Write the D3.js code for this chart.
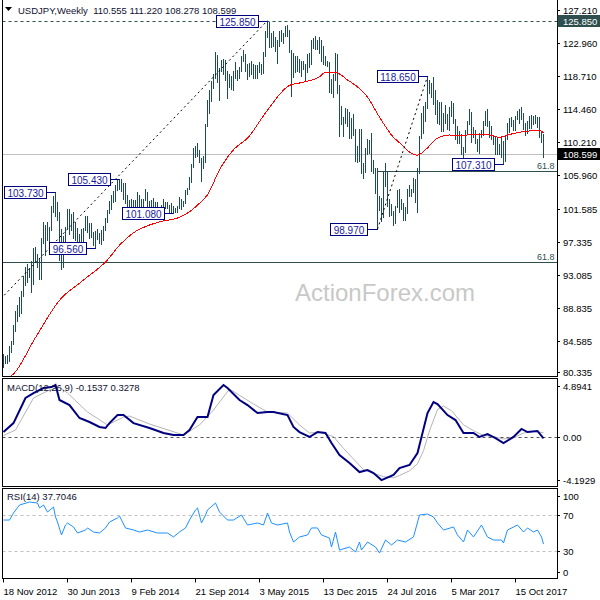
<!DOCTYPE html>
<html><head><meta charset="utf-8">
<script src="https://cdn.jsdelivr.net/npm/d3@7"></script>
<style>
body{margin:0;background:#fff;}
svg{display:block;font-family:"Liberation Sans",Arial,sans-serif;}
</style></head><body>
<svg id="c" width="600" height="600"></svg>
<script>
// ---------- DATA (weekly bars, index 0 = week of 18 Nov 2012) ----------
const highs=[82.84,82.60,82.80,83.95,84.60,86.60,88.40,89.20,90.20,91.00,
92.95,94.10,94.45,94.00,94.80,96.60,96.70,95.80,95.20,97.80,
99.90,99.50,99.90,99.20,101.98,103.30,103.73,102.50,101.20,99.00,
98.10,99.30,101.50,101.50,100.90,101.20,99.90,99.10,98.40,99.00,
99.10,100.60,100.60,99.70,99.70,98.60,98.70,99.00,98.50,98.90,
99.40,100.40,101.40,102.60,103.40,103.90,104.60,105.30,105.43,105.40,
104.90,104.90,103.40,102.70,102.80,102.70,102.70,103.80,103.40,102.80,
102.90,104.10,103.80,102.60,102.70,103.00,102.40,102.40,101.80,102.10,
102.80,102.40,102.40,102.10,102.30,102.00,101.70,101.90,103.15,102.80,
102.60,104.00,104.30,105.70,107.40,109.45,109.70,110.10,109.20,108.10,
108.40,112.50,115.60,116.90,118.00,118.98,121.85,121.40,119.70,120.80,
120.90,120.80,119.30,118.90,118.70,119.30,120.50,119.50,119.80,121.30,
122.00,121.60,120.20,120.40,120.60,120.20,120.10,120.10,120.50,120.20,
121.80,124.50,125.85,125.70,124.30,124.50,123.70,123.30,124.50,124.60,
124.30,125.10,125.30,124.60,122.00,121.70,121.30,121.30,120.90,120.60,
120.60,120.30,121.50,121.70,123.30,123.60,123.80,123.40,123.70,123.30,
122.60,121.30,120.70,120.50,118.30,118.90,121.70,121.50,117.50,114.90,
113.40,114.60,114.40,114.00,113.30,113.80,111.90,109.70,111.90,111.90,
107.50,109.40,110.60,110.50,111.40,107.90,106.90,106.80,103.30,103.00,
106.30,107.50,106.50,102.80,102.20,101.30,102.00,104.00,104.20,102.80,
102.30,101.80,104.20,104.60,104.10,105.50,105.40,106.90,111.00,113.90,
114.80,115.40,118.65,118.20,117.80,118.60,116.90,115.60,115.40,115.40,
113.90,114.95,113.80,114.70,115.50,115.20,113.10,112.20,111.60,111.20,
109.50,111.80,112.90,114.40,114.10,112.10,111.70,110.60,111.40,111.80,
112.90,114.20,114.50,112.90,112.20,111.10,110.90,110.90,109.90,110.70,
110.30,111.00,112.70,113.30,113.40,113.00,113.60,114.20,114.40,114.73,
113.90,112.70,112.90,113.60,113.70,113.60,113.70,113.40,113.40,111.50,
111.22];
const lows=[81.15,81.70,81.70,82.00,83.10,84.10,85.90,87.10,87.80,88.10,
90.30,91.80,92.20,92.80,90.90,91.90,94.90,94.10,92.60,92.60,
97.20,95.60,97.60,97.10,98.80,101.20,100.70,100.10,94.98,93.79,
94.10,96.80,99.10,98.30,98.80,97.80,97.60,95.80,96.20,97.10,
96.80,98.90,98.60,97.80,98.00,96.90,96.56,97.70,97.20,97.10,
97.60,98.80,99.90,101.00,101.60,102.50,102.60,104.00,104.10,103.90,
102.90,102.30,101.80,100.76,101.30,101.60,101.60,101.20,101.20,101.20,
101.70,102.70,101.30,101.40,102.00,101.90,101.40,101.20,100.80,101.50,
101.70,101.70,101.70,101.20,101.20,101.08,101.20,101.20,101.70,101.50,
101.90,102.30,103.50,104.10,105.00,107.00,108.30,108.40,107.60,105.20,
106.80,107.60,112.30,113.90,115.50,117.20,118.40,117.90,115.57,119.30,
118.90,118.20,115.86,117.30,117.00,116.90,118.40,118.20,118.40,119.30,
120.60,119.30,118.30,118.70,118.90,118.50,118.50,118.50,119.20,118.90,
119.10,121.30,123.70,122.50,122.40,122.60,121.90,120.40,122.60,123.20,
123.00,123.80,123.90,121.80,116.15,118.60,119.20,119.30,119.20,118.70,
119.60,118.10,119.20,119.90,120.30,122.30,122.20,122.20,121.70,120.60,
120.30,120.10,120.00,116.70,116.50,115.97,118.20,116.50,110.99,112.50,
110.98,112.60,112.20,110.70,110.70,111.10,107.70,107.60,107.80,106.20,
105.55,106.30,108.60,108.80,106.50,106.20,103.60,98.97,101.40,99.99,
100.50,104.50,101.95,100.70,100.80,99.54,99.80,101.80,101.20,101.50,
100.10,100.10,101.00,103.20,103.20,103.80,102.50,101.20,106.20,110.70,
111.40,112.90,114.60,116.50,116.00,115.10,113.80,112.60,112.50,111.60,
111.60,112.60,111.90,111.70,113.60,112.60,110.60,110.10,110.10,108.70,
108.13,108.90,111.30,112.50,110.20,110.80,110.10,109.10,108.80,110.80,
111.10,112.40,112.20,110.90,110.60,109.90,108.70,108.60,108.60,108.30,
107.31,107.80,110.60,111.50,112.20,111.70,111.70,113.20,112.60,113.10,
111.90,111.10,111.40,112.00,112.00,112.50,112.60,112.10,110.90,110.20,
108.28];
// red moving average
const smaIdx=[0,5,16,28,40,52,58,65,72,78,88,93,98,102,108,115,122,132,143,148,158,161,165,167,172,177,182,188,195,198,203,207,211,217,223,228,232,243,248,252,257,262,268,270];
const smaVal=[79.5,80.3,85.0,89.8,92.4,95.0,96.9,98.5,99.4,99.9,100.5,101.2,102.3,103.4,106.6,109.2,110.7,114.3,117.5,117.8,118.6,119.2,119.2,119.1,118.2,117.3,116.0,113.4,110.8,110.1,108.9,108.5,109.2,110.7,111.1,111.0,111.1,111.1,110.8,111.1,111.4,111.6,111.7,111.4];
// MACD(12,26,9)
const macdIdx=[0,5,11,15,20,24,26,28,33,38,43,48,51,53,57,60,65,73,80,85,90,93,97,102,105,110,112,118,122,127,132,135,142,145,148,153,157,161,164,168,173,178,182,185,189,195,198,203,207,209,212,215,217,222,226,230,235,238,242,246,250,255,259,262,267,270];
const macdMain=[0.39,1.15,3.28,3.70,4.13,4.21,4.38,3.11,2.68,1.58,1.24,0.82,0.73,1.15,1.83,1.83,1.15,0.73,0.31,0.14,0.14,0.56,1.66,1.66,3.53,4.38,4.13,3.11,2.68,2.0,2.09,2.09,1.83,0.82,0.39,-0.03,0.39,0.31,-0.54,-1.56,-2.24,-3.01,-2.84,-3.09,-3.69,-3.26,-2.67,-2.41,-1.39,-0.03,2.0,2.94,2.77,1.83,1.41,0.31,0.31,-0.03,0.22,-0.12,-0.54,-0.03,0.65,0.39,0.48,-0.15];
const sigIdx=[0,6,15,23,28,32,42,52,60,63,73,90,98,105,113,125,132,142,148,153,158,165,170,175,180,185,190,195,198,203,207,210,213,217,220,224,230,235,240,245,250,255,260,265,270];
const sigVal=[0.1,0.56,3.28,3.96,4.21,3.70,2.09,0.99,1.66,1.75,1.07,0.14,0.99,2.26,4.04,2.77,2.09,2.0,0.99,0.31,0.39,0.0,-1.0,-1.9,-2.8,-3.1,-3.4,-3.5,-3.3,-2.9,-2.3,-1.2,0.5,2.3,2.6,2.2,1.0,0.5,0.1,0.0,-0.2,-0.1,0.3,0.45,0.33];
// RSI(14)
const rsiIdx=[0,3,5,8,13,17,18,20,22,25,26,27,29,31,32,35,37,41,42,45,48,51,53,57,58,61,65,68,72,77,82,85,88,91,93,96,97,99,101,102,106,108,112,115,119,122,127,130,132,134,137,142,143,145,148,152,154,157,159,163,164,166,168,173,176,178,179,182,186,188,191,194,197,201,205,208,212,215,217,220,225,227,230,232,235,239,242,245,249,250,252,257,260,262,265,267,269,270];
const rsiVal=[64.4,64.4,72.2,81.1,84.4,83.3,77.8,81.1,73.3,78.9,67.8,62.2,47.8,58.9,61.1,56.7,50,53.3,55.6,51.1,50,55.6,62.2,66.7,68.9,55.6,53.3,51.1,53.3,50,50,45.6,51.1,55.6,64.4,75.6,77.8,61.1,70,75.6,83.3,73.3,64.4,64.4,70,58.9,61.1,58.9,72.2,61.1,58.9,61.1,51.1,40,45.6,47.8,55.6,55.6,47.8,44.4,34.4,51.1,31.1,34.4,28.9,40,31.1,40,34.4,27.8,42.2,36.7,42.2,40,45.6,70,71.1,67.8,61.1,53.3,56.7,47.8,40,53.3,45.6,58.9,45.6,42.2,42.2,38.9,53.3,58.9,51.1,55.6,51.1,53.3,45.6,37.7];
// annotations
const annIdx=[26,46,58,85,132,187,212,250];
const annVal=[103.73,96.56,105.43,101.08,125.85,98.97,118.65,107.31];
// fibonacci anchors (index, price) and level
const fib1=[[-55,75.56],[132,125.85]];
const fib2=[[187,98.97],[212,118.65]];
const fibLevel=0.618;
// axis ticks
const priceTicks=[127.21,122.96,118.71,114.46,110.21,105.96,101.585,97.335,93.085,88.835,84.585,80.335];
const macdTicks=[4.8941,0,-4.1929];
const macdTickLabels=["4.8941","0.00","-4.1929"];
const rsiTicks=[100,70,30,0];
const rsiTickLabels=["100","70","30","0"];
const dateIdx=[0,32,64,96,128,160,192,224,256];
const dateLabels=["18 Nov 2012","30 Jun 2013","9 Feb 2014","21 Sep 2014","3 May 2015","13 Dec 2015","24 Jul 2016","5 Mar 2017","15 Oct 2017"];
const hLine=125.85, lastPrice=108.599;
const header="USDJPY,Weekly  110.555 111.220 108.278 108.599";
const macdLabel="MACD(12,26,9) -0.1537 0.3278";
const rsiLabel="RSI(14) 37.7046";

// ---------- LAYOUT ----------
const svg=d3.select("#c");
const L=2.5,R=557.5;
const P={top:-0.5,bottom:376.5}, M={top:378.5,bottom:486.5}, Q={top:488.5,bottom:578.5};
const x=d3.scaleLinear().domain([0,270]).range([3,543]);
const y=d3.scaleLinear().domain([80.335,127.21]).range([373.7,10]);
const ym=d3.scaleLinear().domain([-4.1929,4.8941]).range([486,379]);
const yr=d3.scaleLinear().domain([0,100]).range([578,488]);
const px=v=>Math.round(v)+0.5;
const defs=svg.append("defs");
function clip(id,t,b){defs.append("clipPath").attr("id",id).append("rect").attr("x",L).attr("y",t).attr("width",R-L).attr("height",b-t);}
clip("cm",0,P.bottom-0.5);clip("cd",M.top+0.5,M.bottom-0.5);clip("cr",Q.top+0.5,Q.bottom-0.5);
const fs=9.5;

// ---------- MAIN PANEL ----------
const gm=svg.append("g").attr("clip-path","url(#cm)");
gm.append("text").attr("x",385).attr("y",301).attr("text-anchor","middle")
  .attr("font-size",24).attr("fill","#c8c8c8").text("ActionForex.com");
gm.append("line").attr("x1",L).attr("x2",R).attr("y1",px(y(lastPrice))).attr("y2",px(y(lastPrice)))
  .attr("stroke","#c0c0c0");
[fib1,fib2].forEach(f=>{
  const lv=f[1][1]-fibLevel*(f[1][1]-f[0][1]);
  const yy=px(y(lv));
  gm.append("line").attr("x1",Math.max(L,x(f[0][0]))).attr("x2",R).attr("y1",yy).attr("y2",yy)
    .attr("stroke","#2f4f4f");
  gm.append("text").attr("x",R-3).attr("y",yy-3).attr("text-anchor","end").attr("font-size",9)
    .attr("fill","#2f4f4f").text((fibLevel*100).toFixed(1));
});
gm.append("line").attr("x1",L).attr("x2",R).attr("y1",px(y(hLine))).attr("y2",px(y(hLine)))
  .attr("stroke","#2f4f4f").attr("stroke-dasharray","3,3");
gm.append("g").selectAll("line").data(highs).join("line")
  .attr("x1",(d,i)=>x(i)+0.5).attr("x2",(d,i)=>x(i)+0.5)
  .attr("y1",d=>Math.round(y(d))).attr("y2",(d,i)=>Math.round(y(lows[i]))+1)
  .attr("stroke","#1b4a62").attr("stroke-width",1).attr("shape-rendering","crispEdges");
gm.append("path").datum(smaIdx.map((d,i)=>[d,smaVal[i]]))
  .attr("d",d3.line().x(d=>x(d[0])+0.5).y(d=>y(d[1])).curve(d3.curveMonotoneX))
  .attr("fill","none").attr("stroke","#ff0000").attr("stroke-width",1).attr("shape-rendering","crispEdges");
[fib1,fib2].forEach(f=>{
  gm.append("path").datum(f).attr("d",d3.line().x(d=>x(d[0])+0.5).y(d=>y(d[1])))
    .attr("stroke","#000").attr("stroke-dasharray","2,3").attr("fill","none");
});
annIdx.forEach((bi,k)=>{
  const v=annVal[k], bx=x(bi)+0.5, yy=px(y(v));
  const g=gm.append("g");
  const t=g.append("text").attr("font-size",10).attr("fill","#1a1aa0").attr("text-anchor","middle").text(v.toFixed(3));
  const tw=t.node().getComputedTextLength();
  const right=Math.round(bx-10)+0.5, w=Math.round(tw+6);
  g.insert("rect","text").attr("x",right-w).attr("y",yy-6).attr("width",w).attr("height",12)
    .attr("fill","#fff").attr("stroke","#000080");
  g.insert("line","rect").attr("x1",right).attr("x2",bx).attr("y1",yy).attr("y2",yy).attr("stroke","#000080");
  t.attr("x",right-w/2).attr("y",yy+4);
});

svg.append("path").attr("d","M5,7 L12,7 L8.5,11 Z").attr("fill","#000");
svg.append("text").attr("x",18).attr("y",14).attr("font-size",fs).attr("fill","#101030")
  .style("white-space","pre").text(header);

// ---------- MACD PANEL ----------
const gd=svg.append("g").attr("clip-path","url(#cd)");
gd.append("line").attr("x1",L).attr("x2",R).attr("y1",px(ym(0))).attr("y2",px(ym(0)))
  .attr("stroke","#555").attr("stroke-dasharray","3,3");
gd.append("path").datum(sigIdx.map((d,i)=>[d,sigVal[i]]))
  .attr("d",d3.line().x(d=>x(d[0])+0.5).y(d=>ym(d[1])))
  .attr("fill","none").attr("stroke","#b4b4b4").attr("stroke-width",1);
gd.append("path").datum(macdIdx.map((d,i)=>[d,macdMain[i]]))
  .attr("d",d3.line().x(d=>x(d[0])+0.5).y(d=>ym(d[1])))
  .attr("fill","none").attr("stroke","#000080").attr("stroke-width",2);
svg.append("text").attr("x",7).attr("y",391).attr("font-size",fs).attr("fill","#101030").text(macdLabel);

// ---------- RSI PANEL ----------
const gr=svg.append("g").attr("clip-path","url(#cr)");
[70,30].forEach(v=>gr.append("line").attr("x1",L).attr("x2",R).attr("y1",px(yr(v))).attr("y2",px(yr(v)))
  .attr("stroke","#c0c0c0").attr("stroke-dasharray","3,3"));
gr.append("path").datum(rsiIdx.map((d,i)=>[d,rsiVal[i]]))
  .attr("d",d3.line().x(d=>x(d[0])+0.5).y(d=>yr(d[1])))
  .attr("fill","none").attr("stroke","#1e90ff").attr("stroke-width",1);
svg.append("text").attr("x",7).attr("y",500).attr("font-size",fs).attr("fill","#101030").text(rsiLabel);

// ---------- FRAMES ----------
const fr=svg.append("g").attr("stroke","#000").attr("fill","none").attr("shape-rendering","crispEdges");
[P,M,Q].forEach(p=>{fr.append("rect").attr("x",L).attr("y",p.top).attr("width",R-L).attr("height",p.bottom-p.top);});

// ---------- AXES ----------
const ax=svg.append("g").attr("transform","translate(557,0)");
const pa=ax.append("g").call(d3.axisRight(y).tickValues(priceTicks).tickSize(3).tickSizeOuter(0).tickFormat(d3.format(".3f")));
pa.select(".domain").remove();
pa.selectAll("text").attr("font-size",fs).attr("font-family","Liberation Sans").attr("x",6).attr("fill","#000");
pa.selectAll(".tick").attr("transform",d=>`translate(0,${Math.min(Math.round(y(d))+0.5,P.bottom-4)})`);
[[hLine,"#2f4f4f"],[lastPrice,"#000"]].forEach(([v,c])=>{
  const yy=Math.round(y(v));
  ax.append("rect").attr("x",0.5).attr("y",yy-6).attr("width",43).attr("height",12).attr("fill",c);
  ax.append("text").attr("x",6).attr("y",yy+3.5).attr("font-size",fs).attr("fill","#fff").text(v.toFixed(3));
});
const clampY=(v,p)=>Math.max(p.top+7,Math.min(p.bottom-7,v));
function sideTicks(vals,labels,sc,p){
  vals.forEach((v,k)=>{
    const yy=Math.round(clampY(sc(v),p))+0.5;
    ax.append("line").attr("x1",0).attr("x2",3).attr("y1",yy).attr("y2",yy).attr("stroke","#000");
    ax.append("text").attr("x",6).attr("y",yy+3.5).attr("font-size",fs).attr("fill","#000").text(labels[k]);
  });
}
sideTicks(macdTicks,macdTickLabels,ym,M);
sideTicks(rsiTicks,rsiTickLabels,yr,Q);
const xa=svg.append("g").attr("transform",`translate(0,${Q.bottom})`);
const da=xa.call(d3.axisBottom(x).tickValues(dateIdx).tickSize(4).tickSizeOuter(0).tickFormat((d,i)=>dateLabels[i]));
da.select(".domain").remove();
da.selectAll(".tick").attr("transform",d=>`translate(${x(d)+0.5},0)`);
da.selectAll("text").attr("font-size",fs).attr("font-family","Liberation Sans").attr("text-anchor","start").attr("x",0).attr("dy","0.95em").attr("fill","#000");
</script>
</body></html>
